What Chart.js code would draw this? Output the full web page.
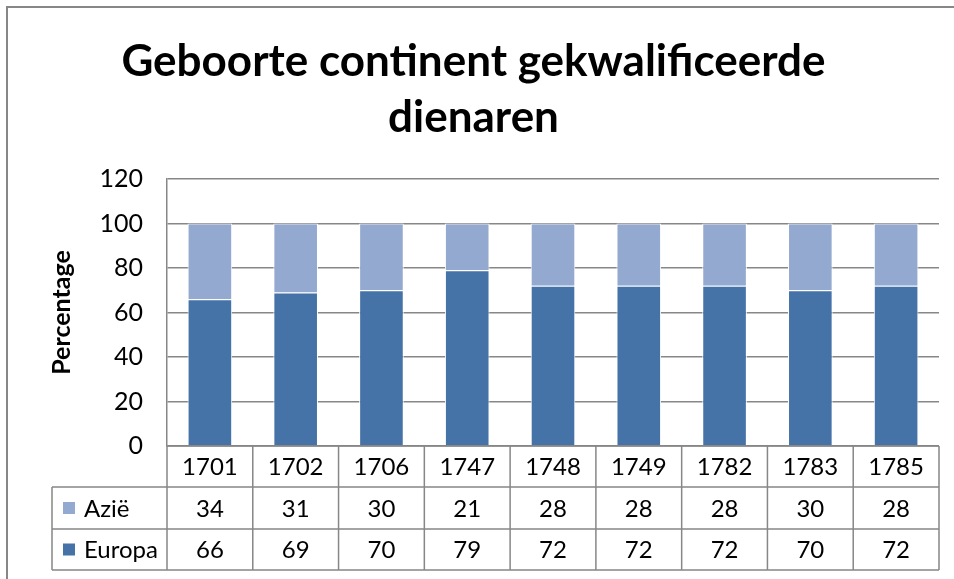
<!DOCTYPE html>
<html>
<head>
<meta charset="utf-8">
<script src="https://cdn.jsdelivr.net/npm/chart.js@4/dist/chart.umd.min.js"></script>
<style>
  html, body { margin: 0; padding: 0; background: #fff; }
  #wrap { width: 954px; height: 579px; }
</style>
</head>
<body>
<div id="wrap"><canvas id="geboorteChart" width="954" height="579"></canvas></div>
<script>
const years = ['1701', '1702', '1706', '1747', '1748', '1749', '1782', '1783', '1785'];
const europa = [66, 69, 70, 79, 72, 72, 72, 70, 72];
const azie = [34, 31, 30, 21, 28, 28, 28, 30, 28];
const yTicks = [0, 20, 40, 60, 80, 100, 120];

const FONT = 'Lato, "Open Sans", sans-serif';
const lineCol = '#878787';

// data table under the plot, lined up on the x scale
const tablePlugin = {
    id: 'dataTable',
    afterDraw(chart) {
        const ctx = chart.ctx;
        const area = chart.chartArea;
        const x = chart.scales.x;
        const n = years.length;
        const colW = (area.right - area.left) / n;
        const rows = [area.bottom, area.bottom + 41, area.bottom + 83, area.bottom + 124];
        const labelLeft = 52;

        ctx.save();
        ctx.strokeStyle = lineCol;
        ctx.lineWidth = 1.5;
        ctx.beginPath();
        ctx.moveTo(area.left, rows[0]); ctx.lineTo(area.right, rows[0]);
        for (let r = 1; r < rows.length; r++) {
            ctx.moveTo(labelLeft, rows[r]); ctx.lineTo(area.right, rows[r]);
        }
        for (let i = 0; i <= n; i++) {
            const px = area.left + i * colW;
            ctx.moveTo(px, rows[0]); ctx.lineTo(px, rows[3]);
        }
        ctx.moveTo(labelLeft, rows[1]); ctx.lineTo(labelLeft, rows[3]);
        ctx.stroke();

        ctx.fillStyle = '#000';
        ctx.font = '24px ' + FONT;
        ctx.textAlign = 'center';
        ctx.textBaseline = 'middle';
        const series = [azie, europa];
        for (let i = 0; i < n; i++) {
            const cx = x.getPixelForValue(i);
            ctx.fillText(years[i], cx, (rows[0] + rows[1]) / 2 + 1);
            for (let s = 0; s < series.length; s++) {
                ctx.fillText(String(series[s][i]), cx, (rows[s + 1] + rows[s + 2]) / 2 + 1);
            }
        }

        const names = ['Azië', 'Europa'];
        const cols = ['#93A9CF', '#4572A7'];
        ctx.textAlign = 'left';
        for (let s = 0; s < names.length; s++) {
            const cy = (rows[s + 1] + rows[s + 2]) / 2;
            ctx.fillStyle = cols[s];
            ctx.fillRect(63, cy - 6, 12, 12);
            ctx.fillStyle = '#000';
            ctx.fillText(names[s], 84, cy + 1);
        }

        // outer chart border
        ctx.strokeStyle = lineCol;
        ctx.lineWidth = 2;
        ctx.strokeRect(7, 7, 1000, 700);
        ctx.restore();
    }
};

new Chart(document.getElementById('geboorteChart'), {
    type: 'bar',
    data: {
        labels: years,
        datasets: [
            {
                label: 'Europa',
                data: europa,
                backgroundColor: '#4572A7',
                borderColor: '#ffffff',
                borderWidth: 1,
                barPercentage: 0.52,
                categoryPercentage: 1
            },
            {
                label: 'Azië',
                data: azie,
                backgroundColor: '#93A9CF',
                borderColor: '#ffffff',
                borderWidth: 1,
                barPercentage: 0.52,
                categoryPercentage: 1
            }
        ]
    },
    options: {
        responsive: false,
        animation: false,
        layout: { padding: { left: 8, right: 15, top: 0, bottom: 9 + 124 } },
        plugins: {
            legend: { display: false },
            tooltip: { enabled: false },
            title: {
                display: true,
                text: ['Geboorte continent gekwalificeerde', 'dienaren'],
                color: '#000',
                font: { family: FONT, size: 44, weight: 'bold', lineHeight: 56 / 44 },
                padding: { top: 34, bottom: 33 }
            }
        },
        scales: {
            x: {
                stacked: true,
                display: false
            },
            y: {
                stacked: true,
                min: 0,
                max: 120,
                afterBuildTicks(scale) {
                    scale.ticks = yTicks.map(v => ({ value: v }));
                },
                afterFit(scale) {
                    scale.width = 159;
                },
                border: { display: true, color: lineCol, width: 1.5 },
                grid: { color: lineCol, lineWidth: 1.5, drawTicks: false },
                ticks: { color: '#000', padding: 24, font: { family: FONT, size: 25 } },
                title: {
                    display: true,
                    text: 'Percentage',
                    color: '#000',
                    font: { family: FONT, size: 25, weight: 'bold' },
                    padding: { top: 39 }
                }
            }
        }
    },
    plugins: [tablePlugin]
});
</script>
</body>
</html>
